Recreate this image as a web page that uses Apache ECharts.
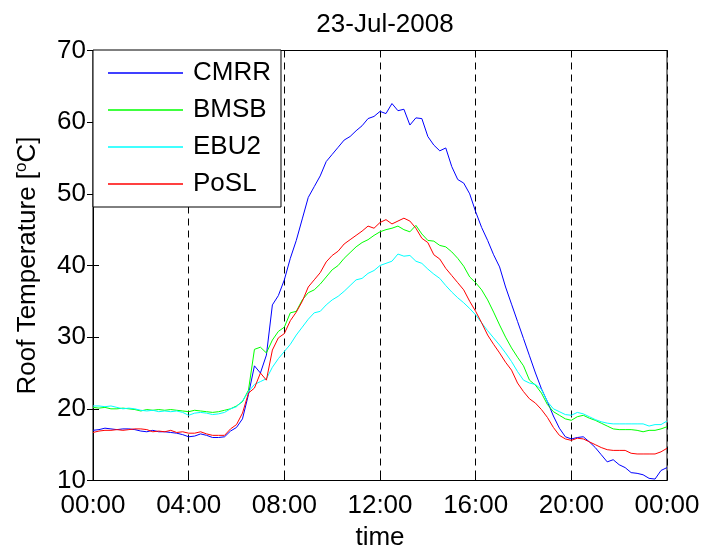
<!DOCTYPE html>
<html>
<head>
<meta charset="utf-8">
<script src="https://cdn.jsdelivr.net/npm/echarts@6/dist/echarts.min.js"></script>
<style>
  html, body { margin: 0; padding: 0; background: #fff; }
  #roof-view { width: 704px; height: 552px; }
</style>
</head>
<body>
<div id="roof-view"></div>
<script>
// sampled every 15 min, 00:00 -> 24:00
var stepHours = 0.25;
var seriesNames = ['CMRR', 'BMSB', 'EBU2', 'PoSL'];
var tickLabels = ['00:00', '04:00', '08:00', '12:00', '16:00', '20:00', '00:00'];

var cmrr = [
  17.0, 17.1, 17.3, 17.2, 17.1, 17.2, 17.2, 17.1, 16.9, 16.8, 17.0, 16.8,
  16.8, 16.7, 16.6, 16.4, 16.1, 16.2, 16.5, 16.3, 16.0, 16.0, 16.1, 16.9,
  17.4, 18.6, 22.0, 26.0, 25.0, 27.5, 34.5, 35.8, 38.0, 41.0, 43.5, 46.5,
  49.5, 51.0, 52.5, 54.5, 55.5, 56.5, 57.5, 58.0, 58.8, 59.5, 60.5, 60.8,
  61.5, 61.2, 62.6, 61.6, 61.8, 59.6, 60.6, 60.5, 58.0, 56.8, 56.0, 56.4,
  53.8, 52.0, 51.5, 50.0, 47.5, 45.3, 43.5, 41.5, 39.8, 37.0, 34.6, 32.2,
  29.8, 27.4, 25.0, 22.8, 21.0, 19.0, 17.3, 16.1, 15.8, 16.0, 16.1, 15.4,
  14.6, 13.6, 12.6, 12.9, 12.2, 11.8, 11.1, 11.0, 10.8, 10.3, 10.2, 11.4,
  11.8
];
var bmsb = [
  20.2, 20.1, 20.2, 20.0, 20.0, 20.1, 20.0, 19.9, 19.7, 19.9, 19.8, 19.9,
  19.8, 19.9, 19.8, 19.7, 19.6, 19.8, 19.7, 19.6, 19.5, 19.6, 19.8, 20.0,
  20.4, 21.0, 22.6, 28.3, 28.6, 27.8, 29.6, 30.8, 31.4, 33.4, 33.6, 35.2,
  36.2, 36.6, 37.4, 38.4, 39.4, 40.0, 41.0, 41.8, 42.6, 43.2, 43.6, 44.2,
  44.7, 45.0, 45.2, 45.5, 45.0, 44.7, 45.6, 44.4, 43.5, 43.4, 42.8, 42.6,
  41.9, 41.0, 39.9, 38.4, 37.6, 36.6, 35.2, 33.5, 31.7, 30.0, 28.5, 27.2,
  26.0, 24.0, 23.3, 22.2, 20.6, 19.6, 19.1, 18.6, 18.4, 18.9, 19.1, 18.7,
  18.4, 18.0, 17.6, 17.2, 17.1, 17.1, 17.1, 17.0, 16.8, 17.0, 17.0, 17.2,
  17.5
];
var ebu2 = [
  20.4, 20.4, 20.3, 20.4, 20.2, 20.0, 20.1, 20.0, 19.8, 19.7, 19.8, 19.6,
  19.7, 19.6, 19.7, 19.5, 19.1, 19.4, 19.5, 19.4, 19.2, 19.3, 19.5, 20.0,
  20.3, 21.1, 22.4, 23.4, 23.8, 24.2, 25.8, 27.0, 28.0, 29.0, 30.3, 31.4,
  32.5, 33.4, 33.6, 34.5, 35.2, 35.7, 36.4, 37.2, 38.0, 38.2, 38.9, 39.3,
  40.0, 40.3, 40.6, 41.6, 41.3, 41.4, 40.6, 40.3, 39.5, 38.8, 38.2, 37.2,
  36.3, 35.5, 34.8, 34.0, 33.1, 32.0, 30.9, 29.9, 28.9, 27.8, 26.6, 25.2,
  24.0, 23.6, 23.4, 22.7, 21.0, 20.0, 19.6, 19.2, 19.1, 19.5, 19.3, 18.9,
  18.5, 18.2, 18.0, 17.9, 17.9, 17.9, 17.9, 17.9, 17.9, 17.6, 17.8, 17.8,
  18.3
];
var posl = [
  16.7, 16.9, 17.0, 17.0, 17.1, 17.0, 17.1, 17.2, 17.2, 17.1, 16.8, 16.9,
  16.8, 17.0, 16.7, 16.8, 16.6, 16.6, 16.8, 16.5, 16.3, 16.3, 16.3, 17.2,
  17.8, 19.4, 22.2, 22.9, 25.0, 24.0, 28.2, 29.9, 30.5, 32.3, 33.5, 35.0,
  37.0, 38.0, 39.0, 40.5, 41.4, 42.0, 43.0, 43.6, 44.2, 44.8, 45.5, 45.2,
  46.0, 46.4, 45.8, 46.2, 46.6, 46.2, 45.2, 43.8, 43.2, 41.5, 40.9, 39.6,
  38.6, 37.6, 36.6, 35.0, 33.6, 32.0, 30.3, 29.0, 27.8, 26.5, 25.4, 23.6,
  22.4, 21.4, 20.8, 19.9, 18.8, 17.4, 16.3, 15.8, 15.6, 15.9, 15.8, 15.4,
  15.0, 14.6, 14.3, 14.2, 14.2, 14.2, 13.8, 13.7, 13.7, 13.7, 13.7, 14.0,
  14.5
];
var seriesColors = ['#0000ff', '#00ff00', '#00ffff', '#ff0000'];

var myChart = echarts.init(document.getElementById('roof-view'));
var font = "'Liberation Sans', Arial, sans-serif";

function toPairs(values) {
  var out = [];
  for (var i = 0; i < values.length; ++i) {
    out.push([i * stepHours, values[i]]);
  }
  return out;
}

var allValues = [cmrr, bmsb, ebu2, posl];
var series = [];
for (var k = 0; k < seriesNames.length; ++k) {
  series.push({
    name: seriesNames[k],
    type: 'line',
    xAxisIndex: 0,
    yAxisIndex: 0,
    data: toPairs(allValues[k]),
    symbol: 'none',
    lineStyle: { color: seriesColors[k], width: 1 },
    itemStyle: { color: seriesColors[k] },
    animation: false
  });
}

var axisLine = { show: true, lineStyle: { color: '#000', width: 1 } };
var tick = { show: true, inside: true, length: 6, lineStyle: { color: '#000' } };

var option = {
  backgroundColor: '#fff',
  animation: false,
  title: {
    text: '23-Jul-2008',
    left: 380,
    top: 7,
    textAlign: 'center',
    textStyle: { fontFamily: font, fontSize: 26, fontWeight: 'normal', color: '#000' }
  },
  legend: {
    data: seriesNames,
    orient: 'vertical',
    left: 93,
    top: 50,
    icon: 'rect',
    itemWidth: 75,
    itemHeight: 1.5,
    itemGap: 11,
    itemTextGap: 10,
    padding: [10, 10, 10, 15],
    borderColor: '#000',
    borderWidth: 1,
    backgroundColor: '#fff',
    textStyle: { fontFamily: font, fontSize: 26, color: '#000', padding: [0, 0, 0, 5] }
  },
  grid: {
    left: 93,
    right: 37,
    top: 50.5,
    bottom: 71.5,
    containLabel: false,
    outerBoundsMode: 'none',
    show: true,
    borderColor: '#000',
    borderWidth: 1,
    backgroundColor: '#fff'
  },
  xAxis: [{
    type: 'value',
    min: 0,
    max: 24,
    interval: 4,
    position: 'bottom',
    name: 'time',
    nameLocation: 'middle',
    nameGap: 44,
    nameTextStyle: { fontFamily: font, fontSize: 26, color: '#000' },
    axisLine: axisLine,
    axisTick: tick,
    axisLabel: {
      margin: 12,
      fontFamily: font,
      fontSize: 26,
      color: '#000',
      formatter: function (v) { return tickLabels[Math.round(v / 4)]; }
    },
    splitLine: { show: true, lineStyle: { color: '#000', type: [7, 5], width: 1 } }
  }, {
    type: 'value',
    min: 0,
    max: 24,
    interval: 4,
    position: 'top',
    axisLine: axisLine,
    axisTick: tick,
    axisLabel: { show: false },
    splitLine: { show: false }
  }],
  yAxis: [{
    type: 'value',
    min: 10,
    max: 70,
    interval: 10,
    position: 'left',
    name: 'Roof Temperature [{sup|o}C]',
    nameLocation: 'middle',
    nameGap: 51,
    nameTextStyle: {
      fontFamily: font,
      fontSize: 26,
      color: '#000',
      rich: {
        sup: { fontFamily: font, fontSize: 17, color: '#000', padding: [0, 0, 12, 0] }
      }
    },
    axisLine: axisLine,
    axisTick: tick,
    axisLabel: { margin: 7, fontFamily: font, fontSize: 26, color: '#000' },
    splitLine: { show: false }
  }, {
    type: 'value',
    min: 10,
    max: 70,
    interval: 10,
    position: 'right',
    axisLine: axisLine,
    axisTick: tick,
    axisLabel: { show: false },
    splitLine: { show: false }
  }],
  series: series
};

myChart.setOption(option);
</script>
</body>
</html>
